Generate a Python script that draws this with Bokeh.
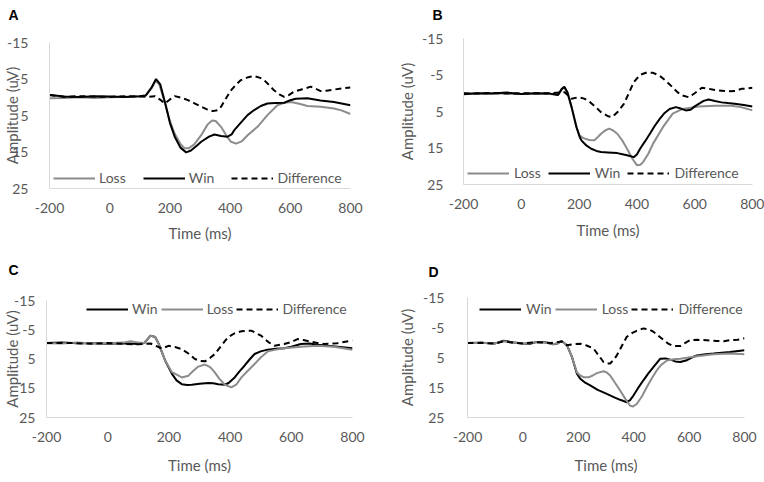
from bokeh.plotting import figure
from bokeh.layouts import column, row
from bokeh.models import Range1d, FixedTicker, Legend, LegendItem
from bokeh.embed import file_html
from bokeh.resources import INLINE

# ---------------- data ----------------
x_ticks = [-200, 0, 200, 400, 600, 800]
x_tick_labels = ["-200", "0", "200", "400", "600", "800"]
y_ticks = [-15, -5, 5, 15, 25]
y_tick_labels = ["-15", "-5", "5", "15", "25"]

# Panel A
A_loss_t = [-200, -150, -100, -50, 0, 50, 100, 120, 140, 152, 165, 183, 200, 216, 235, 249, 262, 280, 304, 325, 340, 352, 370, 390, 403, 420, 440, 458, 491, 524, 557, 580, 602, 630, 657, 701, 745, 770, 800]
A_loss_v = [0.3, 0.2, 0.0, 0.2, 0.0, -0.1, -0.3, -0.5, -2.5, -4.6, -3.5, 1.5, 6.5, 10.0, 12.8, 14.0, 14.0, 13.0, 10.4, 7.5, 6.4, 6.5, 8.1, 10.8, 12.2, 12.7, 12.0, 10.4, 8.1, 4.9, 2.2, 1.5, 1.3, 1.8, 2.4, 2.6, 3.1, 3.6, 4.6]
A_win_t = [-200, -150, -100, -50, 0, 50, 100, 120, 140, 154, 168, 185, 200, 216, 235, 254, 270, 290, 304, 330, 348, 370, 392, 405, 414, 435, 458, 480, 502, 524, 550, 580, 600, 618, 657, 700, 745, 800]
A_win_v = [-0.6, -0.2, -0.1, -0.3, -0.2, -0.1, -0.3, -0.5, -2.8, -5.0, -3.5, 1.8, 7.0, 10.8, 13.8, 15.1, 14.6, 13.2, 12.2, 10.8, 10.2, 10.6, 10.8, 10.2, 9.0, 7.0, 4.9, 3.5, 2.4, 1.7, 1.6, 1.5, 0.8, 0.4, 0.3, 0.9, 1.3, 2.2]
A_diff_t = [-200, -150, -100, -50, 0, 50, 100, 130, 150, 170, 183, 200, 216, 240, 260, 280, 304, 325, 342, 360, 370, 385, 403, 420, 436, 460, 480, 500, 513, 530, 546, 565, 580, 595, 612, 640, 668, 685, 701, 720, 745, 770, 800]
A_diff_v = [-0.6, -0.1, -0.3, -0.2, -0.1, -0.3, -0.2, -0.1, -0.3, 0.8, 1.7, 0.6, -0.3, 0.2, 0.8, 1.6, 2.6, 3.4, 3.8, 3.5, 2.6, 0.5, -1.9, -3.5, -4.7, -5.5, -5.8, -5.3, -4.7, -3.3, -1.9, -0.7, -0.1, -0.6, -1.5, -2.2, -2.9, -2.3, -1.7, -1.8, -2.1, -2.4, -2.7]

# Panel B
B_loss_t = [-200, -150, -100, -50, 0, 50, 100, 127, 140, 149, 160, 174, 191, 202, 215, 235, 253, 265, 276, 290, 304, 318, 332, 350, 366, 385, 400, 412, 422, 440, 456, 490, 524, 558, 614, 670, 727, 760, 800]
B_loss_v = [0.0, 0.1, 0.0, 0.1, 0.2, 0.1, 0.2, 0.5, -1.0, -1.6, 0.0, 3.8, 9.3, 11.6, 12.3, 12.8, 12.9, 12.0, 11.1, 10.2, 9.7, 10.2, 11.1, 13.0, 15.2, 18.0, 19.7, 19.6, 18.8, 16.5, 13.8, 9.3, 5.6, 4.3, 3.6, 3.4, 3.4, 3.8, 4.7]
B_win_t = [-200, -150, -100, -50, 0, 50, 100, 127, 140, 149, 160, 174, 191, 202, 208, 225, 242, 260, 276, 300, 332, 350, 366, 389, 400, 411, 428, 445, 462, 479, 496, 513, 535, 552, 569, 586, 600, 614, 631, 648, 670, 693, 715, 738, 770, 800]
B_win_v = [0.3, 0.0, 0.1, -0.2, 0.2, 0.0, 0.1, 0.5, -1.2, -1.8, -0.2, 3.8, 9.3, 12.0, 12.9, 14.3, 15.2, 15.8, 16.1, 16.2, 16.4, 16.7, 17.0, 17.5, 16.8, 15.2, 13.2, 11.1, 8.9, 7.0, 5.4, 4.3, 3.8, 4.2, 4.7, 4.5, 3.6, 2.9, 2.1, 1.7, 2.1, 2.5, 2.7, 2.9, 3.2, 3.6]
B_diff_t = [-200, -150, -100, -50, 0, 50, 100, 150, 174, 197, 215, 231, 255, 276, 300, 315, 335, 355, 372, 389, 410, 434, 456, 479, 500, 524, 540, 558, 580, 600, 625, 650, 670, 693, 715, 740, 761, 780, 800]
B_diff_v = [0.0, 0.1, -0.1, 0.1, 0.0, 0.0, 0.0, -0.3, 1.5, 1.1, 1.4, 2.0, 3.6, 5.2, 6.3, 6.5, 5.0, 2.9, 0.0, -3.0, -5.0, -5.7, -5.6, -4.8, -3.4, -1.6, -0.3, 0.6, 1.1, 0.0, -1.5, -1.2, -0.9, -0.7, -0.5, -0.6, -1.2, -1.3, -1.5]

# Panel C
C_win_t = [-200, -150, -100, -50, 0, 50, 100, 120, 140, 155, 167, 188, 210, 225, 242, 260, 275, 300, 329, 345, 361, 383, 395, 415, 430, 447, 465, 480, 500, 523, 550, 577, 600, 631, 660, 685, 720, 760, 800]
C_win_v = [-0.5, -0.6, -0.4, -0.4, -0.2, -0.4, -0.1, -0.5, -3.0, -2.5, -0.1, 5.6, 10.1, 12.3, 13.6, 13.9, 13.8, 13.5, 13.2, 13.3, 13.6, 13.8, 13.2, 11.3, 9.3, 7.3, 5.0, 3.3, 2.4, 1.8, 1.5, 1.3, 0.8, -0.1, -0.3, 0.1, 0.5, 0.9, 1.3]
C_loss_t = [-200, -150, -100, -50, 0, 50, 75, 100, 120, 140, 155, 167, 188, 210, 221, 242, 264, 280, 296, 318, 335, 350, 365, 383, 404, 420, 437, 458, 480, 500, 523, 550, 577, 631, 685, 739, 800]
C_loss_v = [-0.4, -0.3, -0.6, -0.3, -0.4, -0.6, -1.1, -0.6, -0.5, -3.0, -2.5, -0.1, 5.6, 9.5, 10.1, 11.3, 10.7, 9.0, 7.6, 6.9, 7.8, 9.6, 11.8, 13.8, 14.7, 13.8, 11.3, 9.0, 6.7, 4.5, 2.4, 1.8, 1.3, 0.8, 0.5, 0.8, 1.8]
C_diff_t = [-200, -150, -100, -50, 0, 50, 100, 140, 177, 199, 220, 242, 265, 285, 300, 318, 335, 350, 370, 393, 415, 437, 469, 501, 525, 545, 577, 600, 620, 640, 663, 706, 750, 800]
C_diff_v = [-0.5, -0.5, -0.4, -0.2, -0.5, -0.2, 0.0, -0.3, 1.4, 0.5, 0.9, 1.6, 3.2, 5.0, 5.6, 5.8, 4.6, 3.3, 0.6, -2.4, -3.8, -4.5, -4.7, -3.0, -0.8, 0.5, -0.1, -0.8, -1.8, -1.5, -0.9, -0.1, -0.4, -1.3]

# Panel D
D_win_t = [-200, -150, -100, -70, -40, 0, 26, 50, 80, 110, 125, 140, 159, 177, 195, 207, 225, 243, 270, 303, 330, 351, 375, 387, 399, 415, 435, 453, 471, 496, 515, 532, 550, 568, 592, 610, 628, 660, 688, 748, 800]
D_win_v = [0.2, 0.1, 0.3, -0.6, -0.1, 0.3, 0.4, -0.2, -0.1, 0.6, 0.3, -0.5, 0.9, 4.8, 10.4, 12.1, 13.4, 14.3, 15.8, 17.1, 18.3, 19.1, 19.9, 19.2, 17.7, 15.3, 12.6, 10.3, 8.2, 5.4, 5.3, 5.7, 6.3, 6.5, 5.9, 5.0, 4.3, 3.9, 3.7, 3.2, 2.6]
D_loss_t = [-200, -150, -100, -70, -40, 0, 26, 50, 80, 110, 125, 140, 159, 177, 195, 207, 220, 237, 252, 267, 291, 303, 315, 333, 351, 370, 387, 398, 411, 430, 447, 465, 483, 500, 520, 545, 568, 598, 628, 688, 748, 800]
D_loss_v = [0.2, 0.1, 0.3, -0.4, 0.0, 0.3, 0.2, -0.1, 0.0, 0.5, 0.3, -0.5, 0.9, 4.8, 10.0, 11.0, 11.6, 11.6, 11.0, 10.2, 9.6, 10.0, 11.0, 13.5, 16.0, 18.8, 21.1, 21.3, 20.5, 17.9, 14.9, 12.0, 9.3, 7.4, 6.0, 5.6, 5.4, 5.0, 4.6, 3.9, 3.7, 3.9]
D_diff_t = [-200, -150, -100, -70, -40, 0, 50, 100, 140, 159, 180, 207, 230, 255, 275, 291, 305, 315, 330, 339, 358, 375, 395, 411, 435, 455, 471, 490, 508, 525, 544, 568, 585, 604, 630, 652, 680, 700, 725, 748, 775, 800]
D_diff_v = [0.2, 0.1, 0.4, -0.4, 0.0, 0.3, -0.1, 0.2, -0.3, 0.9, 0.6, 0.4, 1.0, 2.0, 4.5, 6.5, 7.0, 7.0, 5.5, 4.3, 1.0, -1.9, -3.2, -3.9, -4.7, -4.4, -3.6, -2.2, -0.8, 0.4, 1.2, 1.2, 0.2, -0.8, -0.9, -0.8, -0.6, -0.5, -0.4, -0.8, -0.9, -1.4]

# ---------------- styling ----------------
TEXT = "#595959"
AXIS = "#d9d9d9"
GRAY = "#8c8c8c"
BLACK = "#000000"
FONT = "Lato"

STYLE = {
    "Loss": dict(line_color=GRAY, line_width=2),
    "Win": dict(line_color=BLACK, line_width=2),
    "Difference": dict(line_color=BLACK, line_width=2, line_dash="6 4"),
}


def make_panel(letter, series, cfg):
    p = figure(width=cfg["w"], height=cfg["h"],
               x_range=Range1d(-200, 800), y_range=Range1d(25, -15),
               output_backend="svg", toolbar_location=None,
               min_border_left=cfg["bl"], min_border_right=cfg["br"],
               min_border_top=cfg["bt"], min_border_bottom=cfg["bb"],
               outline_line_color=None, x_axis_label="Time (ms)",
               y_axis_label="Amplitude (uV)")
    p.frame_align = False
    # panel letter as the figure title, pushed to the top-left corner
    p.title.text = letter + "\n"
    p.title.vertical_align = "top"
    p.title.align = "left"
    p.title.offset = cfg["tx"]
    p.title.standoff = 0
    p.title.text_line_height = cfg["tl"]
    p.title.text_font = "Liberation Sans"
    p.title.text_font_size = "14px"
    p.title.text_font_style = "bold"
    p.title.text_color = BLACK

    p.xgrid.visible = False
    p.ygrid.visible = False
    p.xaxis.ticker = FixedTicker(ticks=x_ticks)
    p.xaxis.major_label_overrides = dict(zip(x_ticks, x_tick_labels))
    p.yaxis.ticker = FixedTicker(ticks=y_ticks)
    p.yaxis.major_label_overrides = dict(zip(y_ticks, y_tick_labels))
    for ax in (p.xaxis, p.yaxis):
        ax.axis_line_color = AXIS
        ax.axis_line_width = 1
        ax.major_tick_line_color = None
        ax.minor_tick_line_color = None
        ax.major_label_text_font = FONT
        ax.major_label_text_font_size = "14px"
        ax.major_label_text_color = TEXT
        ax.axis_label_text_font = FONT
        ax.axis_label_text_font_size = "15px"
        ax.axis_label_text_font_style = "normal"
        ax.axis_label_text_color = TEXT
    p.xaxis.major_label_standoff = 8
    p.xaxis.axis_label_standoff = cfg["xls"]
    p.yaxis.major_label_standoff = cfg["yts"]
    p.yaxis.axis_label_standoff = cfg["yls"]

    items = []
    for name, t, v in series:
        r = p.line(t, v, **STYLE[name])
        items.append(LegendItem(label=name, renderers=[r]))
    legend = Legend(items=items, orientation="horizontal", location=cfg["loc"],
                    glyph_width=42, glyph_height=16, label_height=16,
                    label_standoff=cfg["lstand"], spacing=cfg["lspace"],
                    padding=0, margin=0, border_line_alpha=0,
                    background_fill_alpha=0,
                    label_text_font=FONT, label_text_font_size="14px",
                    label_text_color=TEXT)
    p.add_layout(legend)
    return p


pA = make_panel("A", [("Loss", A_loss_t, A_loss_v), ("Win", A_win_t, A_win_v),
                      ("Difference", A_diff_t, A_diff_v)],
                dict(w=395, h=254, bl=48, br=45, bt=42, bb=66, xls=8, yts=15, yls=-17,
                     loc=(4, 2), lstand=4, lspace=17, tx=-41, tl=1.1))
pB = make_panel("B", [("Loss", B_loss_t, B_loss_v), ("Win", B_win_t, B_win_v),
                      ("Difference", B_diff_t, B_diff_v)],
                dict(w=369, h=254, bl=61, br=12, bt=38, bb=70, xls=9, yts=14, yls=3,
                     loc=(4, 3), lstand=5, lspace=7, tx=-31, tl=0.9))
pC = make_panel("C", [("Win", C_win_t, C_win_v), ("Loss", C_loss_t, C_loss_v),
                      ("Difference", C_diff_t, C_diff_v)],
                dict(w=395, h=227, bl=43, br=43, bt=46, bb=64, xls=11, yts=5, yls=-10,
                     loc=(40, 100), lstand=4, lspace=3, tx=-38, tl=1.31))
pD = make_panel("D", [("Win", D_win_t, D_win_v), ("Loss", D_loss_t, D_loss_v),
                      ("Difference", D_diff_t, D_diff_v)],
                dict(w=369, h=227, bl=72, br=20, bt=43, bb=64, xls=11, yts=17, yls=4,
                     loc=(12, 100), lstand=5, lspace=3, tx=-39, tl=0.99))

layout = column(row(pA, pB), row(pC, pD))
open("out.html", "w").write(file_html(layout, INLINE))
